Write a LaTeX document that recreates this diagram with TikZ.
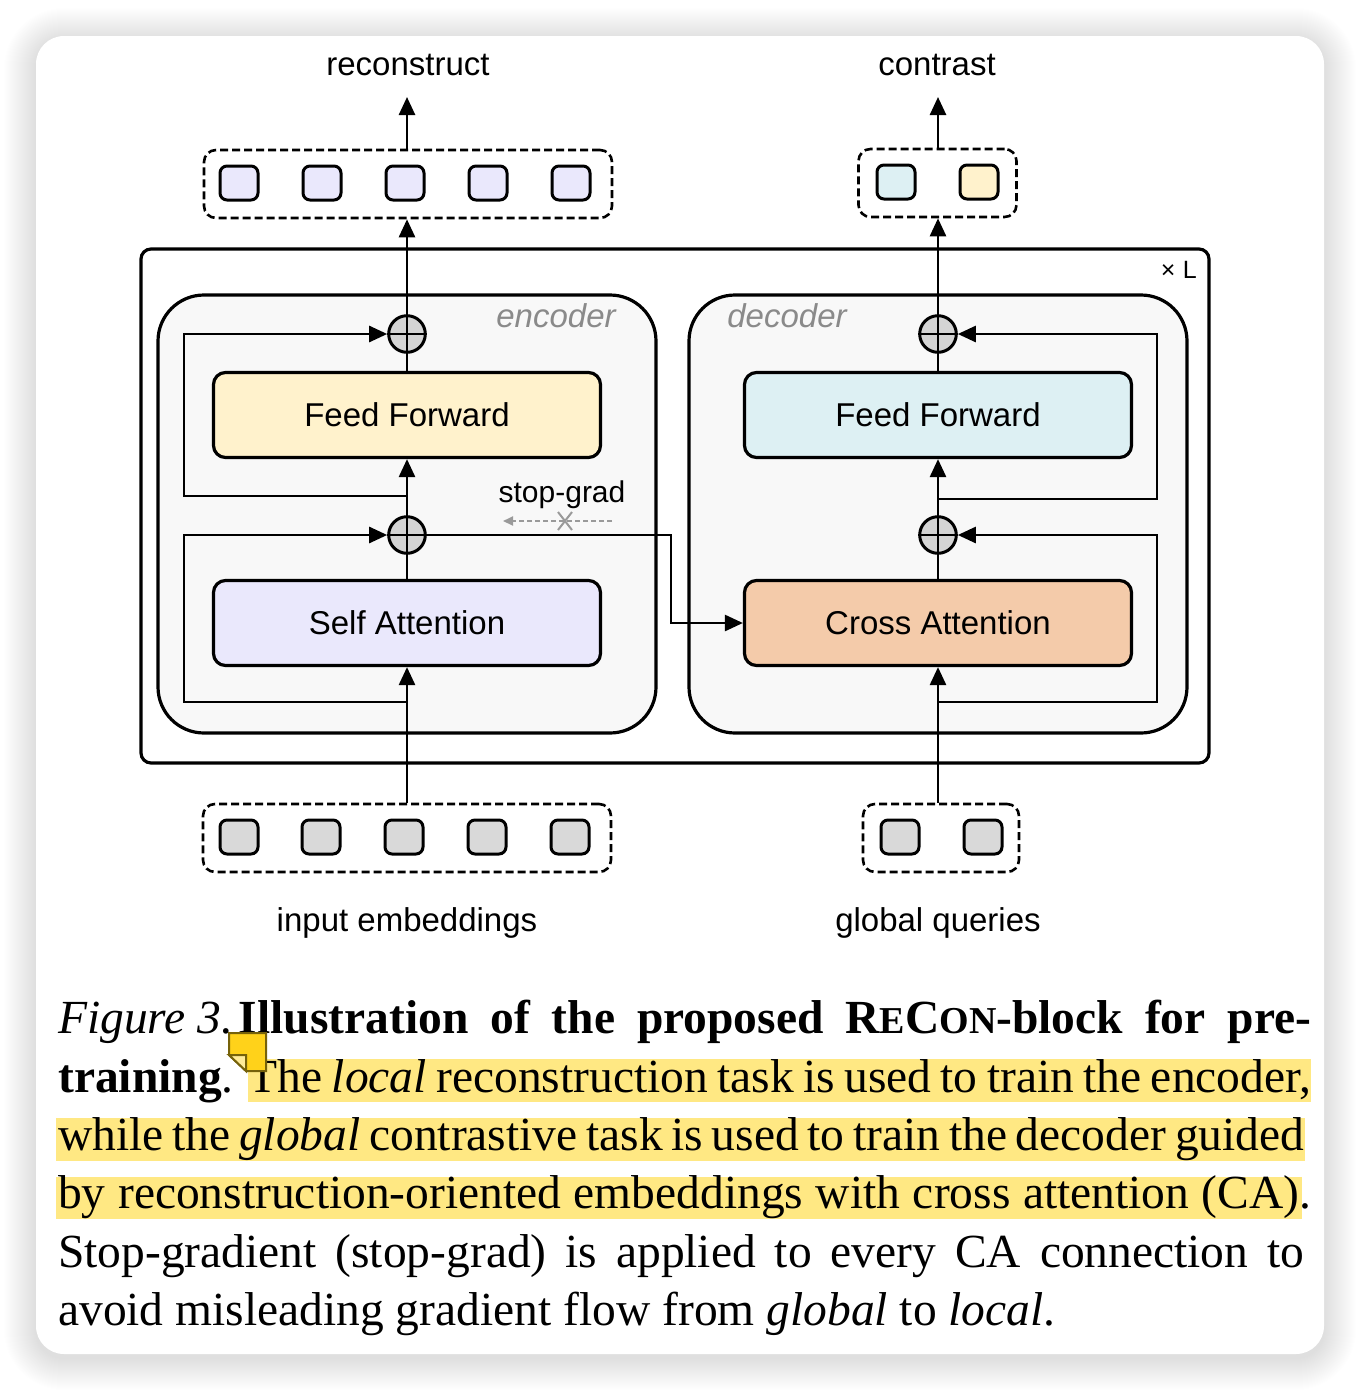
\documentclass[tikz,border=0pt]{standalone}
\usepackage{fontspec}
\setmainfont{Liberation Serif}
\newfontfamily\dsans{Liberation Sans}
\usetikzlibrary{arrows.meta}
\definecolor{ffy}{HTML}{FFF2CC}
\definecolor{ffc}{HTML}{DDF0F3}
\definecolor{sac}{HTML}{EAE8FC}
\definecolor{cac}{HTML}{F4CBAA}
\definecolor{plusc}{HTML}{D4D4D4}
\definecolor{contc}{HTML}{F8F8F8}
\definecolor{tokg}{HTML}{D9D9D9}
\definecolor{hl}{HTML}{FFE883}
\definecolor{notec}{HTML}{FFD21A}
\definecolor{noted}{HTML}{76620A}
\definecolor{labg}{HTML}{8A8A8A}
\definecolor{sgc}{HTML}{9A9A9A}
\newcommand\smc[1]{{\fontsize{38}{38}\selectfont #1}}
\newcommand\capsp{\spaceskip=0.25em plus 0.6em minus 0.1em\relax}
\begin{document}
\begin{tikzpicture}[x=1pt,y=-1pt,
 lab/.style={font=\dsans\fontsize{33}{33}\selectfont, inner sep=0pt, anchor=base},
 blk/.style={draw, line width=3.2pt, rounded corners=12pt, minimum width=387pt, minimum height=85pt,
   font=\dsans\fontsize{33}{33}\selectfont, text height=23.6pt, text depth=0pt, inner sep=0pt},
 cont/.style={draw, line width=3.2pt, fill=contc, rounded corners=46pt, minimum width=498pt, minimum height=438pt, inner sep=0pt},
 plusnode/.style={circle, draw, line width=3pt, fill=plusc, minimum size=36.6pt, inner sep=0pt},
 tok/.style={draw, line width=3pt, rounded corners=7pt, minimum width=38pt, minimum height=34pt, inner sep=0pt},
 dbox/.style={draw, line width=2.6pt, dash pattern=on 8pt off 4pt, rounded corners=12pt, inner sep=0pt, minimum height=68pt},
 ln/.style={line width=2.6pt},
 arr/.style={line width=2.6pt, -{Triangle[length=18pt,width=16pt]}},
 capline/.style={anchor=base west, inner sep=0pt, font=\fontsize{47.5}{58}\selectfont}
]
\useasboundingbox (0,0) rectangle (1360,1390);
\fill[white] (0,0) rectangle (1360,1390);
% shadow
\foreach \i in {1,...,32}{
  \pgfmathsetmacro\rr{28+\i}
  \fill[black, opacity=0.0055, rounded corners=\rr pt] ({36-\i},{40-\i}) rectangle ({1324+\i},{1358+\i});
}
% card
\fill[white, rounded corners=28pt] (36,36) rectangle (1324,1354);

% outer xL box
\node[draw, line width=3.2pt, rounded corners=10pt, minimum width=1068pt, minimum height=514pt, inner sep=0pt] (Lbox) at (675,506) {};
\node[font=\dsans\fontsize{25}{25}\selectfont, anchor=base east, inner sep=0pt] (Ltxt) at (1197,278) {×\hspace{0.3em}L};

% containers
\node[cont] (enc) at (407,514) {};
\node[cont] (dec) at (938,514) {};
\node[lab, text=labg, font=\dsans\itshape\fontsize{33}{33}\selectfont] (enct) at (556,327) {encoder};
\node[lab, text=labg, font=\dsans\itshape\fontsize{33}{33}\selectfont] (dect) at (787,327) {decoder};

% blocks
\node[blk, fill=ffy] (ffe) at (407,415) {Feed Forward};
\node[blk, fill=sac] (sa) at (407,623) {Self Attention};
\node[blk, fill=ffc] (ffd) at (938,415) {Feed Forward};
\node[blk, fill=cac] (ca) at (938,623) {Cross Attention};

% plus nodes
\node[plusnode] (pe2) at (407,334) {};
\node[plusnode] (pe1) at (407,535) {};
\node[plusnode] (pd2) at (938,334) {};
\node[plusnode] (pd1) at (938,535) {};
\foreach \p in {pe1,pe2,pd1,pd2}{
  \draw[ln] (\p.north) -- (\p.south) (\p.west) -- (\p.east);
}

% token groups
\node[dbox, minimum width=408pt] (inbox) at (407,838) {};
\foreach \x [count=\k] in {239,321,404,487,570} \node[tok, fill=tokg] (in\k) at (\x,837) {};
\node[dbox, minimum width=156pt] (qbox) at (941,838) {};
\node[tok, fill=tokg] (q1) at (900,837) {};
\node[tok, fill=tokg] (q2) at (983,837) {};
\node[dbox, minimum width=408pt] (outbox) at (408,184) {};
\foreach \x [count=\k] in {239,322,405,488,571} \node[tok, fill=sac] (o\k) at (\x,183) {};
\node[dbox, minimum width=158pt] (cbox) at (937.5,183) {};
\node[tok, fill=ffc] (c1) at (896,182) {};
\node[tok, fill=ffy] (c2) at (979,182) {};

% labels
\node[lab] (trec) at (408,75) {reconstruct};
\node[lab] (tcon) at (937,75) {contrast};
\node[lab] (tin) at (407,931) {input embeddings};
\node[lab] (tgq) at (938,931) {global queries};

% encoder flow
\coordinate (rt) at (407,97);
\coordinate (ct) at (938,97);
\draw[arr] (sa.south |- inbox.north) -- (sa.south);
\draw[ln] (sa.north) -- (pe1.south);
\draw[arr] (pe1.north) -- (ffe.south);
\draw[ln] (ffe.north) -- (pe2.south);
\draw[arr] (pe2.north) -- (pe2 |- outbox.south);
\draw[arr] (pe2 |- outbox.north) -- (rt);
\coordinate (re1) at (407,702);
\coordinate (re2) at (407,496);
\draw[arr] (re1) -| (184,535) -- (pe1.west);
\draw[arr] (re2) -| (184,334) -- (pe2.west);

% decoder flow
\draw[arr] (ca.south |- qbox.north) -- (ca.south);
\draw[ln] (ca.north) -- (pd1.south);
\draw[arr] (pd1.north) -- (ffd.south);
\draw[ln] (ffd.north) -- (pd2.south);
\draw[arr] (pd2.north) -- (pd2 |- cbox.south);
\draw[arr] (pd2 |- cbox.north) -- (ct);
\coordinate (rd1) at (938,702);
\coordinate (rd2) at (938,499);
\draw[arr] (rd1) -| (1157,535) -- (pd1.east);
\draw[arr] (rd2) -| (1157,334) -- (pd2.east);

% cross attention link
\draw[arr] (pe1.east) -| (671,623) -- (ca.west);

% stop-grad
\node[font=\dsans\fontsize{30}{30}\selectfont, anchor=base, inner sep=0pt] (sg) at (562,502) {stop-grad};
\coordinate (sgs) at (612,521);
\coordinate (sge) at (503,521);
\draw[sgc, line width=2pt, dash pattern=on 5pt off 3pt, -{Triangle[length=10pt,width=9pt]}] (sgs) -- (sge);
\coordinate (xa) at (558,512); \coordinate (xb) at (572,530);
\coordinate (xc) at (558,530); \coordinate (xd) at (572,512);
\draw[sgc, line width=2pt] (xa) -- (xb) (xc) -- (xd);

% caption highlights
\fill[hl] (248,1059) rectangle (1311,1102);
\fill[hl] (56,1118) rectangle (1305,1161);
\fill[hl] (56,1177) rectangle (1302,1219);

% caption
\node[capline] (c1) at (58,1033) {\capsp\makebox[1253pt][s]{\textit{Figure\hspace{0.25em}3.}\hspace{0.12em}\textbf{Illustration of the proposed R\smc{E}C\smc{ON}-block for pre-}}};
\node[capline] (c2) at (58,1092) {\capsp\makebox[1253pt][s]{\textbf{training}. The \textit{local} reconstruction task is used to train the encoder,}};
\node[capline] (c3) at (58,1150) {\capsp\makebox[1246pt][s]{while the \textit{global} contrastive task is used to train the decoder guided}};
\node[capline] (c4) at (58,1208) {\capsp\makebox[1253pt][s]{by reconstruction-oriented embeddings with cross attention (CA).}};
\node[capline] (c5) at (58,1267) {\capsp\makebox[1246pt][s]{Stop-gradient (stop-grad) is applied to every CA connection to}};
\node[capline] (c6) at (58,1325) {avoid misleading gradient flow from \textit{global} to \textit{local}.};

% sticky note
\filldraw[fill=notec, draw=noted, line width=2pt] (229,1033) -- (266,1033) -- (266,1071) -- (246,1071) -- (229,1055) -- cycle;
\filldraw[fill=notec!45!white, draw=noted, line width=2pt] (229,1055) -- (246,1055) -- (246,1071) -- cycle;
\end{tikzpicture}
\end{document}
